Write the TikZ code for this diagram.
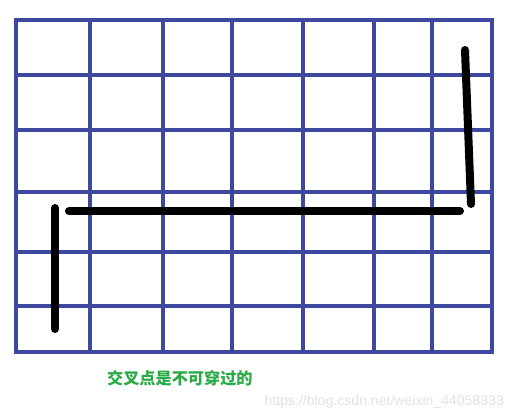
\documentclass[tikz,border=0pt]{standalone}
\usepackage{fontspec}
\newfontfamily\cjk{Noto Sans CJK SC}
\newfontfamily\wmfont{Liberation Sans}
\definecolor{gridblue}{RGB}{63,72,159}
\definecolor{notegreen}{RGB}{40,170,70}
\definecolor{wmgray}{RGB}{225,225,225}
\tikzset{
  gridline/.style={gridblue,line width=2.2mm,line cap=rect},
  wall/.style={black,line width=4mm,line cap=round}
}

\begin{document}
\begin{tikzpicture}[x=0.5mm,y=-0.5mm]
      \useasboundingbox (0,0) rectangle (514,420);
      % grid
      \foreach \x in {16,90,163,232,303,374,432,492} {
        \draw[gridline] (\x,20) -- (\x,352);
      }
      \foreach \y in {20,75,130,192,252,306,352} {
        \draw[gridline] (16,\y) -- (492,\y);
      }
      % walls
      \coordinate (a1) at (55,208);
      \coordinate (a2) at (55,329);
      \coordinate (b1) at (69,211);
      \coordinate (b2) at (460,211);
      \coordinate (c1) at (465,50);
      \coordinate (c2) at (471,204);
      \draw[wall] (a1) -- (a2);
      \draw[wall] (b1) -- (b2);
      \draw[wall] (c1) -- (c2);
      % texts
      \node[anchor=west,inner sep=0pt,text=notegreen,font=\cjk\bfseries\fontsize{23}{27}\selectfont] (note) at (107,378) {交叉点是不可穿过的};
      \node[anchor=east,inner sep=0pt,text=wmgray,font=\wmfont\fontsize{20}{24}\selectfont] (mark) at (504,402) {https://blog.csdn.net/weixin\_44058333};
    \end{tikzpicture}
\end{document}
